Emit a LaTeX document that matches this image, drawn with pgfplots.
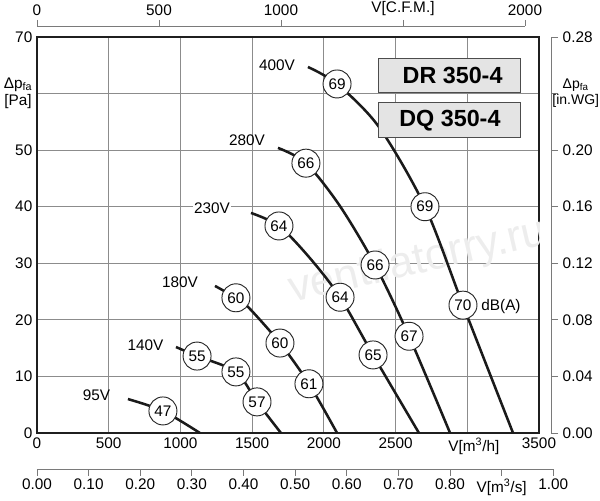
\documentclass[border=0pt]{standalone}
\usepackage{pgfplots}
\pgfplotsset{compat=1.18}
\usepackage{fontspec}
\setmainfont{Liberation Sans}
\definecolor{gridc}{HTML}{8C8C8C}
\definecolor{axc}{HTML}{7A7A7A}
\definecolor{boxc}{HTML}{E4E4E4}
\definecolor{curvec}{HTML}{1A1A1A}
\newcommand{\lbl}{\fontsize{11.5}{13}\selectfont}
\pgfplotsset{/pgf/number format/assume math mode=true}
\begin{document}
\begin{tikzpicture}
\useasboundingbox (-27.75pt,-50.25pt) rectangle (422.25pt,324.75pt);
% top CFM axis
\begin{axis}[at={(0,0)},anchor=south west,scale only axis,
  width=366pt,height=305.25pt,xmin=0,xmax=2000,ymin=0,ymax=1,
  axis x line=top,axis y line=none,
  axis line style={-,axc,line width=0.7pt},
  xtick={0,500,1000,1500,2000},
  xticklabels={0,500,1000,V[C.F.M.],2000},
  tick align=outside,major tick length=4.5pt,
  tick style={axc,line width=0.7pt},
  xticklabel style={font=\lbl}]
\end{axis}
% bottom m3/s axis
\begin{axis}[at={(0,-27pt)},anchor=south west,scale only axis,
  width=387.2pt,height=5pt,xmin=0,xmax=1,ymin=0,ymax=1,
  axis x line=bottom,axis y line=none,
  axis line style={-,axc,line width=0.7pt},
  xtick={0,0.1,...,1.0},
  xticklabels={0.00,0.10,0.20,0.30,0.40,0.50,0.60,0.70,0.80,V[m\textsuperscript{3}/s],1.00},
  tick align=outside,major tick length=5pt,
  tick style={axc,line width=0.7pt},
  xticklabel style={font=\lbl,yshift=1pt}]
\end{axis}
% right in.WG axis
\begin{axis}[at={(0,0)},anchor=south west,scale only axis,
  width=385.5pt,height=297pt,xmin=0,xmax=1,ymin=0,ymax=0.28,
  axis y line=right,axis x line=none,
  axis line style={-,axc,line width=0.7pt},
  ytick={0,0.04,0.08,0.12,0.16,0.20,0.24,0.28},
  yticklabels={0.00,0.04,0.08,0.12,0.16,0.20,{\raisebox{-2pt}{\makebox[19.5pt][c]{\fontsize{10.5}{12}\selectfont\begin{tabular}{@{}c@{}}Δp\textsubscript{fa}\\{[in.WG]}\end{tabular}}}},0.28},
  tick align=outside,major tick length=5.25pt,
  tick style={axc,line width=0.7pt},
  yticklabel style={font=\lbl}]
\end{axis}
% main axis
\begin{axis}[at={(0,0)},anchor=south west,scale only axis,
  width=376.5pt,height=297pt,xmin=0,xmax=3500,ymin=0,ymax=70,
  xtick={0,500,...,3500},ytick={0,10,...,70},
  xticklabels={0,500,1000,1500,2000,2500,\hspace*{10pt}V[m\textsuperscript{3}/h],3500},
  yticklabels={0,10,20,30,40,50,{\begin{tabular}{@{}c@{}}Δp\textsubscript{fa}\\{[Pa]}\end{tabular}},70},
  yticklabel style={font=\lbl},
  xticklabel style={font=\lbl},
  grid=major,grid style={gridc,line width=0.75pt},
  major tick length=0pt,
  axis line style={line width=1.9pt,black!88}]
% faint watermark
\node[font=\fontsize{33}{36}\selectfont,text=black!7,rotate=13] at (axis cs:2656,30.2) {ventilatorry.ru};
% voltage curves
\addplot[smooth,line width=1.9pt,curvec] coordinates {(1889,64.7)(2092,61.7)(2384,54.1)(2705,40.0)(2970,22.6)(3319,0)};
\addplot[smooth,line width=1.9pt,curvec] coordinates {(1680,50.4)(1875,47.7)(2110,40.2)(2357,29.7)(2594,17.1)(2880,0)};
\addplot[smooth,line width=1.9pt,curvec] coordinates {(1492,38.9)(1687,36.6)(1900,31.0)(2113,24.0)(2343,13.8)(2663,0)};
\addplot[smooth,line width=1.9pt,curvec] coordinates {(1241,26.0)(1387,23.9)(1471,22.3)(1694,15.9)(1896,8.7)(2092,0)};
\addplot[smooth,line width=1.9pt,curvec] coordinates {(969,15.2)(1116,13.6)(1387,10.8)(1534,5.5)(1701,0)};
\addplot[smooth,line width=1.9pt,curvec] coordinates {(634,6.0)(878,3.9)(1136,0)};
% sound level circles
\addplot[only marks,mark=none,nodes near coords,point meta=explicit symbolic,
  nodes near coords style={circle,draw=black!85,fill=white,line width=0.7pt,
  minimum size=21pt,inner sep=0pt,anchor=center,font=\lbl}]
  coordinates {(2092,61.7)[69] (2705,40.0)[69] (2970,22.6)[70]
  (1875,47.7)[66] (2357,29.7)[66] (2594,17.1)[67]
  (1687,36.6)[64] (2113,24.0)[64] (2343,13.8)[65]
  (1387,23.9)[60] (1694,15.9)[60] (1896,8.7)[61]
  (1116,13.6)[55] (1387,10.8)[55] (1534,5.5)[57]
  (878,3.9)[47]};
% labels
\node[font=\lbl] at (axis cs:1673,65.0) {400V};
\node[font=\lbl] at (axis cs:1464,51.8) {280V};
\node[font=\lbl,fill=white,inner sep=1pt] at (axis cs:1220,39.8) {230V};
\node[font=\lbl] at (axis cs:997,26.7) {180V};
\node[font=\lbl] at (axis cs:757,15.6) {140V};
\node[font=\lbl] at (axis cs:415,6.7) {95V};
\node[font=\lbl] at (axis cs:3235,22.4) {dB(A)};
\node[draw=black!70,fill=boxc,line width=0.8pt,minimum width=106.5pt,minimum height=26pt,
  font=\fontsize{17.5}{20}\selectfont\bfseries] at (axis cs:2879,63.2) {\hspace*{4pt}DR 350-4};
\node[draw=black!70,fill=boxc,line width=0.8pt,minimum width=106.5pt,minimum height=26pt,
  font=\fontsize{17.5}{20}\selectfont\bfseries] at (axis cs:2879,55.3) {DQ 350-4};
\end{axis}
\end{tikzpicture}
\end{document}
